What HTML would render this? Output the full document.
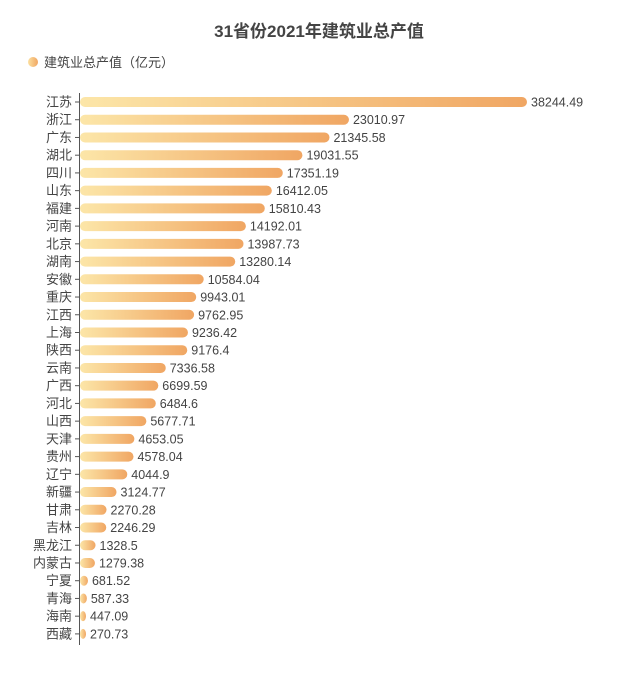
<!DOCTYPE html><html><head><meta charset="utf-8"><style>
body{margin:0;background:#fff;width:638px;height:668px;overflow:hidden;font-family:"Liberation Sans","Noto Sans CJK SC",sans-serif}
</style></head><body>
<svg id="s" width="638" height="668" xmlns="http://www.w3.org/2000/svg">
<defs><linearGradient id="g" x1="0" x2="1" y1="0" y2="0"><stop offset="0" stop-color="#fce6a8"/><stop offset="1" stop-color="#f0a663"/></linearGradient>
<linearGradient id="lg" x1="0" x2="1"><stop offset="0" stop-color="#fce0a0"/><stop offset="1" stop-color="#f0a663"/></linearGradient></defs>
<text x="319" y="37" text-anchor="middle" font-size="17" font-weight="bold" fill="#444">31省份2021年建筑业总产值</text>
<circle cx="33" cy="62" r="5" fill="url(#lg)"/>
<text x="44" y="67" font-size="13" fill="#444">建筑业总产值（亿元）</text>
<line x1="79.5" y1="93" x2="79.5" y2="645" stroke="#555" stroke-width="1"/>
</svg>
<script>
var d=[["江苏",38244.49],["浙江",23010.97],["广东",21345.58],["湖北",19031.55],["四川",17351.19],["山东",16412.05],["福建",15810.43],["河南",14192.01],["北京",13987.73],["湖南",13280.14],["安徽",10584.04],["重庆",9943.01],["江西",9762.95],["上海",9236.42],["陕西",9176.4],["云南",7336.58],["广西",6699.59],["河北",6484.6],["山西",5677.71],["天津",4653.05],["贵州",4578.04],["辽宁",4044.9],["新疆",3124.77],["甘肃",2270.28],["吉林",2246.29],["黑龙江",1328.5],["内蒙古",1279.38],["宁夏",681.52],["青海",587.33],["海南",447.09],["西藏",270.73]];
var s=document.getElementById('s'),h='';
d.forEach(function(r,i){var y=102+i*17.73,w=Math.max(r[1]*0.011688,6);
h+='<line x1="75" x2="79.5" y1="'+y+'" y2="'+y+'" stroke="#555"/>';
h+='<text x="72" y="'+(y+4.5)+'" text-anchor="end" font-size="13" fill="#444">'+r[0]+'</text>';
h+='<rect x="80" y="'+(y-5)+'" width="'+w+'" height="10" rx="5" fill="url(#g)"/>';
h+='<text x="'+(80+w+4)+'" y="'+(y+4.5)+'" font-size="12.5" fill="#444">'+r[1]+'</text>';});
s.insertAdjacentHTML('beforeend',h);
</script>
</body></html>
